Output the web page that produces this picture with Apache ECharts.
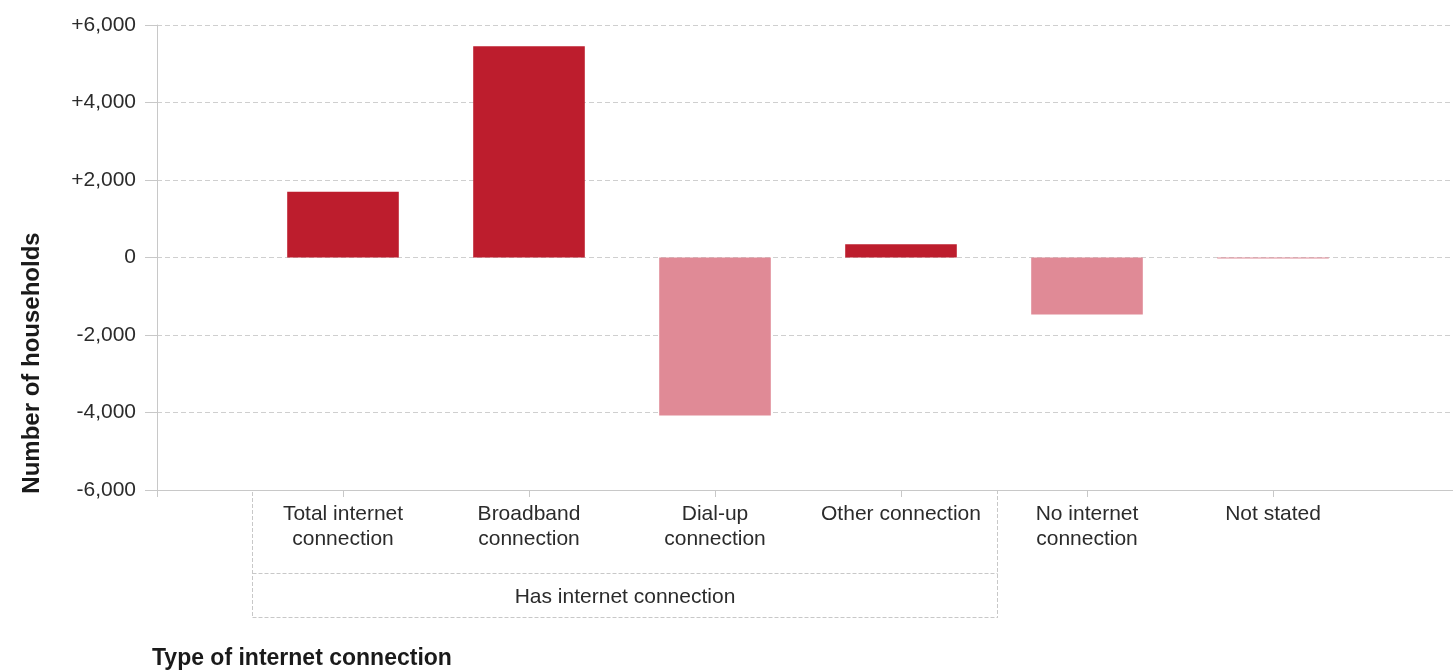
<!DOCTYPE html>
<html>
<head>
<meta charset="utf-8">
<script src="https://cdn.jsdelivr.net/npm/echarts@6/dist/echarts.min.js"></script>
<style>
html,body{margin:0;padding:0;background:#fff;}
#chart{width:1453px;height:670px;}
</style>
</head>
<body>
<div id="chart"></div>
<script>
const categories = ['Total internet\nconnection', 'Broadband\nconnection', 'Dial-up\nconnection', 'Other connection', 'No internet\nconnection', 'Not stated'];
const values = [1700, 5450, -4080, 340, -1470, -25];
const yMin = -6000, yMax = 6000, yInterval = 2000;
const groupLabel = 'Has internet connection';
const groupFirst = 0, groupLast = 3;
const yAxisTitle = 'Number of households';
const xAxisTitle = 'Type of internet connection';

const FONT = '"Liberation Sans", Arial, sans-serif';
const DARK = '#BD1D2D', LIGHT = '#E08A96';
const TXT = '#2b2b2b';

const chart = echarts.init(document.getElementById('chart'), null, {renderer: 'canvas'});

const data = values.map((v, i) => [i, v]);

chart.setOption({
  animation: false,
  backgroundColor: '#fff',
  grid: {left: 157, width: 1302, top: 25, bottom: 180, containLabel: false, outerBoundsMode: 'none'},
  xAxis: {
    type: 'value', min: -1, max: 6, interval: 1,
    axisLine: {show: true, onZero: false, lineStyle: {color: '#c8c8c8', width: 1}},
    axisTick: {show: true, length: 7, lineStyle: {color: '#c8c8c8'}},
    splitLine: {show: false},
    axisLabel: {
      margin: 12, fontFamily: FONT, fontSize: 21, lineHeight: 25, color: TXT,
      formatter: v => (Number.isInteger(v) && v >= 0 && v < categories.length) ? categories[v] : ''
    }
  },
  yAxis: {
    type: 'value', min: yMin, max: yMax, interval: yInterval,
    axisLine: {show: true, onZero: false, lineStyle: {color: '#c8c8c8'}},
    axisTick: {show: true, length: 12, lineStyle: {color: '#c8c8c8'}},
    splitLine: {show: true, lineStyle: {color: '#cfcfcf', type: [5, 3]}},
    axisLabel: {
      margin: 21, fontFamily: FONT, fontSize: 21, color: TXT,
      formatter: v => (v > 0 ? '+' : '') + v.toLocaleString('en-US')
    }
  },
  series: [{
    type: 'bar',
    data: data,
    barWidth: '60%',
    itemStyle: {color: p => p.value[1] >= 0 ? DARK : LIGHT}
  }]
});

// group bracket below the category labels, positioned via axis scale
const pL = chart.convertToPixel({gridIndex: 0}, [groupFirst - 0.5, yMin]);
const pR = chart.convertToPixel({gridIndex: 0}, [groupLast + 0.5, yMin]);
const x0 = Math.round(pL[0]) + 2.5, x1 = Math.round(pR[0]) + 3.5, yb = Math.round(pL[1]);
const dash = {stroke: '#c8c8c8', lineWidth: 1, lineDash: [4, 2]};
chart.setOption({
  graphic: [
    {type: 'line', shape: {x1: x0, y1: yb + 2, x2: x0, y2: yb + 128}, style: dash, silent: true},
    {type: 'line', shape: {x1: x1, y1: yb, x2: x1, y2: yb + 128}, style: dash, silent: true},
    {type: 'line', shape: {x1: x0, y1: yb + 83.5, x2: x1, y2: yb + 83.5}, style: dash, silent: true},
    {type: 'line', shape: {x1: x0, y1: yb + 127.5, x2: x1, y2: yb + 127.5}, style: dash, silent: true},
    {type: 'text', x: (x0 + x1) / 2, y: yb + 107, silent: true,
     style: {text: groupLabel, fontFamily: FONT, fontSize: 21, fill: TXT, align: 'center', verticalAlign: 'middle'}},
    {type: 'text', x: 32, y: 363, rotation: Math.PI / 2, silent: true,
     style: {text: yAxisTitle, fontFamily: FONT, fontSize: 24, fontWeight: 'bold', fill: '#1a1a1a', align: 'center', verticalAlign: 'middle'}},
    {type: 'text', x: 152, y: 659, silent: true,
     style: {text: xAxisTitle, fontFamily: FONT, fontSize: 23, fontWeight: 'bold', fill: '#1a1a1a', align: 'left', verticalAlign: 'middle'}}
  ]
});
</script>
</body>
</html>
